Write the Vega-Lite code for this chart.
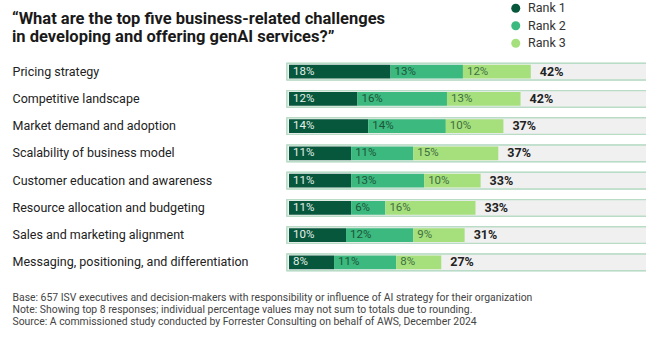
{
  "$schema": "https://vega.github.io/schema/vega-lite/v6.json",
  "autosize": {"type": "none"},
  "padding": {"left": 289, "top": 58, "right": 0, "bottom": 79},
  "width": 357,
  "height": 218,
  "background": "white",
  "config": {
    "font": "Roboto",
    "view": {"stroke": null}
  },
  "title": {
    "text": ["“What are the top five business-related challenges", "in developing and offering genAI services?”"],
    "anchor": "start",
    "frame": "group",
    "dx": -277,
    "dy": 57,
    "offset": 14,
    "fontSize": 16.5,
    "fontWeight": "bold",
    "lineHeight": 17.5,
    "color": "#1a1a1a",
    "font": "Roboto"
  },
  "data": {
    "values": [
      {"q": "Pricing strategy", "rank": "Rank 1", "value": 17.8, "pct": "18%", "total": "42%"},
      {"q": "Pricing strategy", "rank": "Rank 2", "value": 12.7, "pct": "13%", "total": "42%"},
      {"q": "Pricing strategy", "rank": "Rank 3", "value": 11.9, "pct": "12%", "total": "42%"},
      {"q": "Competitive landscape", "rank": "Rank 1", "value": 12.0, "pct": "12%", "total": "42%"},
      {"q": "Competitive landscape", "rank": "Rank 2", "value": 15.7, "pct": "16%", "total": "42%"},
      {"q": "Competitive landscape", "rank": "Rank 3", "value": 12.9, "pct": "13%", "total": "42%"},
      {"q": "Market demand and adoption", "rank": "Rank 1", "value": 13.9, "pct": "14%", "total": "37%"},
      {"q": "Market demand and adoption", "rank": "Rank 2", "value": 13.6, "pct": "14%", "total": "37%"},
      {"q": "Market demand and adoption", "rank": "Rank 3", "value": 10.1, "pct": "10%", "total": "37%"},
      {"q": "Scalability of business model", "rank": "Rank 1", "value": 10.9, "pct": "11%", "total": "37%"},
      {"q": "Scalability of business model", "rank": "Rank 2", "value": 10.9, "pct": "11%", "total": "37%"},
      {"q": "Scalability of business model", "rank": "Rank 3", "value": 14.9, "pct": "15%", "total": "37%"},
      {"q": "Customer education and awareness", "rank": "Rank 1", "value": 10.9, "pct": "11%", "total": "33%"},
      {"q": "Customer education and awareness", "rank": "Rank 2", "value": 12.8, "pct": "13%", "total": "33%"},
      {"q": "Customer education and awareness", "rank": "Rank 3", "value": 9.9, "pct": "10%", "total": "33%"},
      {"q": "Resource allocation and budgeting", "rank": "Rank 1", "value": 10.9, "pct": "11%", "total": "33%"},
      {"q": "Resource allocation and budgeting", "rank": "Rank 2", "value": 6.0, "pct": "6%", "total": "33%"},
      {"q": "Resource allocation and budgeting", "rank": "Rank 3", "value": 15.8, "pct": "16%", "total": "33%"},
      {"q": "Sales and marketing alignment", "rank": "Rank 1", "value": 10.0, "pct": "10%", "total": "31%"},
      {"q": "Sales and marketing alignment", "rank": "Rank 2", "value": 11.8, "pct": "12%", "total": "31%"},
      {"q": "Sales and marketing alignment", "rank": "Rank 3", "value": 9.0, "pct": "9%", "total": "31%"},
      {"q": "Messaging, positioning, and differentiation", "rank": "Rank 1", "value": 7.9, "pct": "8%", "total": "27%"},
      {"q": "Messaging, positioning, and differentiation", "rank": "Rank 2", "value": 10.9, "pct": "11%", "total": "27%"},
      {"q": "Messaging, positioning, and differentiation", "rank": "Rank 3", "value": 7.9, "pct": "8%", "total": "27%"}
    ]
  },
  "encoding": {
    "y": {
      "field": "q",
      "type": "nominal",
      "sort": ["Pricing strategy", "Competitive landscape", "Market demand and adoption", "Scalability of business model", "Customer education and awareness", "Resource allocation and budgeting", "Sales and marketing alignment", "Messaging, positioning, and differentiation"],
      "scale": {"paddingInner": 0, "paddingOuter": 0},
      "axis": {
        "title": null,
        "ticks": false,
        "tickSize": 0,
        "domain": false,
        "labelAlign": "left",
        "labelPadding": 277,
        "labelFontSize": 12.5,
        "labelColor": "#222222",
        "labelFont": "Roboto",
        "labelLimit": 0
      }
    }
  },
  "layer": [
    {
      "mark": {"type": "bar", "height": {"band": 0.6}, "fill": "#f0f0f0", "stroke": "#b9dcc6", "strokeWidth": 1.2},
      "encoding": {
        "x": {
          "datum": -0.35,
          "type": "quantitative",
          "scale": {"domain": [0, 62.6], "nice": false, "zero": false},
          "axis": {
            "title": ["Base: 657 ISV executives and decision-makers with responsibility or influence of AI strategy for their organization", "Note: Showing top 8 responses; individual percentage values may not sum to totals due to rounding.", "Source: A commissioned study conducted by Forrester Consulting on behalf of AWS, December 2024"],
            "labels": false,
            "ticks": false,
            "domain": false,
            "grid": false,
            "titleAnchor": "start",
            "titleAlign": "left",
            "titleBaseline": "top",
            "titleX": -277,
            "titleY": 16,
            "titleFontSize": 10.4,
            "titleFontWeight": "normal",
            "titleColor": "#444444",
            "titleLineHeight": 12.3,
            "titleFont": "Roboto"
          }
        },
        "x2": {"datum": 64}
      }
    },
    {
      "mark": {"type": "bar", "height": {"band": 0.5}},
      "encoding": {
        "x": {"field": "value", "type": "quantitative", "stack": "zero"},
        "order": {"field": "rank", "sort": "ascending"},
        "color": {
          "field": "rank",
          "type": "nominal",
          "scale": {"domain": ["Rank 1", "Rank 2", "Rank 3"], "range": ["#07573c", "#3bb97f", "#a6e07d"]},
          "legend": {
            "title": null,
            "orient": "none",
            "legendX": 220.5,
            "legendY": -56,
            "padding": 0,
            "symbolType": "circle",
            "symbolSize": 81,
            "symbolStrokeWidth": 0,
            "symbolOpacity": 1,
            "labelFontSize": 12.5,
            "labelColor": "#333333",
            "labelFont": "Roboto",
            "labelOffset": 6,
            "rowPadding": 4.5
          }
        }
      }
    },
    {
      "transform": [
        {"stack": "value", "groupby": ["q"], "sort": [{"field": "rank", "order": "ascending"}], "as": ["x0", "x1"]}
      ],
      "mark": {"type": "text", "align": "left", "baseline": "middle", "dx": 4, "fontSize": 11.5, "font": "Roboto"},
      "encoding": {
        "x": {"field": "x0", "type": "quantitative"},
        "text": {"field": "pct"},
        "color": {
          "field": "rank",
          "type": "nominal",
          "scale": {"domain": ["Rank 1", "Rank 2", "Rank 3"], "range": ["#e4f1e9", "#1c5538", "#3f6e40"]},
          "legend": null
        }
      }
    },
    {
      "transform": [
        {"aggregate": [{"op": "sum", "field": "value", "as": "end"}], "groupby": ["q", "total"]}
      ],
      "mark": {"type": "text", "align": "left", "baseline": "middle", "dx": 9, "fontSize": 12.5, "fontWeight": "bold", "color": "#222222", "font": "Roboto"},
      "encoding": {
        "x": {"field": "end", "type": "quantitative"},
        "text": {"field": "total"}
      }
    }
  ],
  "resolve": {"scale": {"color": "independent"}}
}
